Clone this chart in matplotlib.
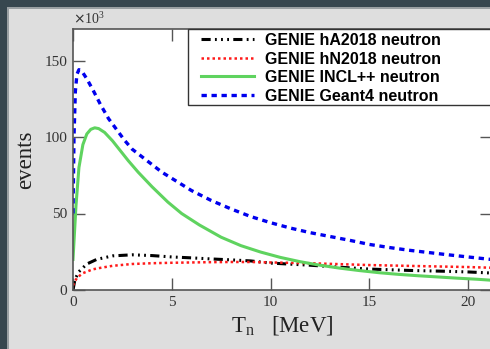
import numpy as np
import matplotlib
matplotlib.use("Agg")
import matplotlib.pyplot as plt
from matplotlib.patches import Rectangle

# kinetic energy of neutron (MeV) and events (x10^3)
t_blue = [0.0, 0.05, 0.12, 0.2, 0.3, 0.45, 0.7, 1.0, 1.4, 1.8, 2.2, 2.6, 3.0, 3.5, 4.0, 4.5,
          5.0, 6.0, 7.0, 8.0, 9.0, 10.0, 11.0, 12.0, 13.0, 14.0, 15.0, 16.0, 17.0, 18.0,
          19.0, 20.0, 21.0, 21.6]
geant4 = [50, 100, 130, 141, 144, 143, 138, 131, 121, 112, 105, 98, 92, 87, 82, 77,
          73, 65, 58.5, 53, 48, 44, 40.5, 37.5, 35, 32.5, 29.8, 27.8, 26, 24.5,
          23, 21.6, 20.2, 19.5]

t_green = [0.0, 0.15, 0.3, 0.5, 0.7, 0.9, 1.1, 1.3, 1.6, 2.0, 2.4, 2.8, 3.3, 4.0, 4.8, 5.5,
           6.4, 7.5, 8.5, 9.5, 10.5, 11.5, 12.5, 13.5, 14.5, 15.5, 16.5, 17.5, 18.5, 19.5,
           20.5, 21.6]
incl = [20, 55, 80, 95, 102, 105, 106, 105.5, 103, 97.5, 91, 84.5, 77, 67.5, 57.5, 50,
        42.5, 34.5, 29, 24.8, 21.3, 18.5, 16.2, 14.3, 12.7, 11.3, 10.2, 9.3, 8.5, 7.7,
        7.0, 6.0]

t_black = [0.0, 0.1, 0.3, 0.7, 1.2, 2.0, 3.0, 4.0, 5.0, 6.0, 7.0, 8.0, 9.0, 10.0, 12.0,
           14.0, 15.0, 17.0, 19.0, 20.0, 21.0, 21.6]
ha2018 = [0, 7, 12, 17, 20, 22.3, 23, 22.5, 21.6, 21, 20.3, 19.7, 19, 17.6, 16.2,
          14.5, 13.7, 12.8, 12.2, 11.8, 11.2, 11]

t_red = [0.0, 0.2, 0.5, 1.0, 1.4, 2.0, 3.0, 4.0, 5.0, 6.0, 7.0, 8.0, 9.0, 10.0, 12.0,
         15.0, 18.0, 20.0, 21.6]
hn2018 = [3, 8, 11, 13.5, 14.5, 15.8, 17, 17.5, 17.8, 18, 18.2, 18.3, 18.3, 18, 17.5,
          16.3, 15.5, 15, 14.4]

labels = ["GENIE hA2018 neutron", "GENIE hN2018 neutron",
          "GENIE INCL++ neutron", "GENIE Geant4 neutron"]

W, H = 490, 349
fig = plt.figure(figsize=(W / 100, H / 100), dpi=100, facecolor="#37474f")
fig.patches.append(Rectangle((7 / W, 0), 1, 1 - 7 / H, transform=fig.transFigure,
                             facecolor="#9aa0a3", edgecolor="none", zorder=-10))
fig.patches.append(Rectangle((9 / W, 0), 1, 1 - 9 / H, transform=fig.transFigure,
                             facecolor="#dedede", edgecolor="none", zorder=-9))

xmax = 21.2
ax = fig.add_axes([73 / W, 59 / H, xmax * 19.75 / W, 261 / H])
ax.set_facecolor("white")

ax.plot(t_black, ha2018, color="black", lw=2.2,
        linestyle=(0, (3, 1.4, 0.6, 1.4, 0.6, 1.4, 0.6, 1.4)), label=labels[0])
ax.plot(t_red, hn2018, color="#ff1a1a", lw=1.8, linestyle=(0, (1, 1.2)), label=labels[1])
ax.plot(t_green, incl, color="#5fd35f", lw=2.2, linestyle="-", label=labels[2])
ax.plot(t_blue, geant4, color="#0000ee", lw=2.4, linestyle=(0, (1.6, 1.4)), label=labels[3])

ax.set_xlim(0, xmax)
ax.set_ylim(0, 261 / 1.53)
ax.set_xticks([0, 5, 10, 15, 20])
ax.set_yticks([0, 50, 100, 150])
ax.tick_params(direction="in", length=8.5, width=1, color="#555555", top=True, right=True,
               labelsize=11, labelcolor="#333333", pad=4)
for lab in ax.get_xticklabels() + ax.get_yticklabels():
    lab.set_family("Liberation Serif")
for s in ax.spines.values():
    s.set_color("#555555")
    s.set_linewidth(1.2)

ax.set_ylabel("events", family="Liberation Serif", fontsize=16.5, color="#222222", labelpad=6)
ax.set_xlabel(r"T$_\mathregular{n}$   [MeV]", family="Liberation Serif", fontsize=16.5,
              color="#222222", labelpad=4)
ax.text(0, 1.008, r"$\times\mathregular{10^3}$", transform=ax.transAxes,
        family="Liberation Serif", fontsize=10, color="#333333", va="bottom", ha="left")

# legend box
ax.add_patch(Rectangle(((188 - 73) / (xmax * 19.75), 1 - 76 / 261),
                       1, 76 / 261, transform=ax.transAxes, facecolor="white",
                       edgecolor="#333333", lw=1, clip_on=False, zorder=5))
leg = ax.legend(loc="upper left", bbox_to_anchor=((197 - 73) / (xmax * 19.75), 1.0),
                frameon=False, prop={"family": "Liberation Sans", "weight": "bold", "size": 11.5},
                handlelength=3.3, handletextpad=0.7, labelspacing=0.22, borderaxespad=0,
                borderpad=0.25)
leg.set_zorder(6)

fig.savefig("out.png", dpi=100, facecolor=fig.get_facecolor())
